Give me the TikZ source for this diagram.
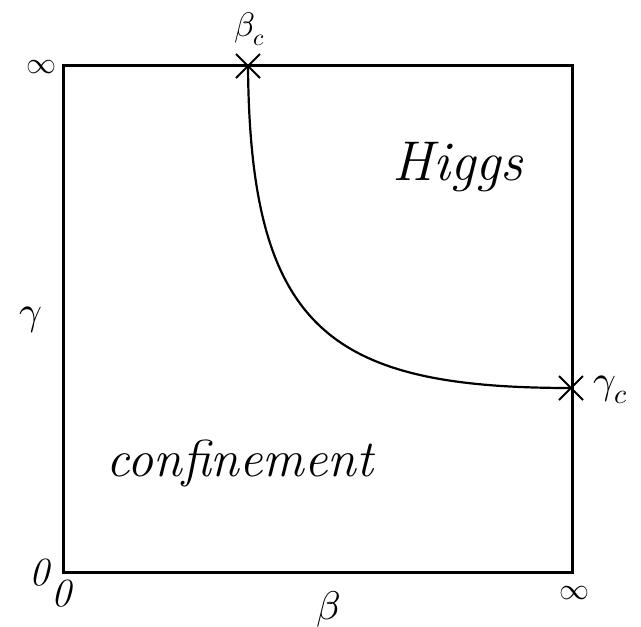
\documentclass[tikz,border=0pt]{standalone}
\usepackage{unicode-math}
\setmathfont{Latin Modern Math}
\usetikzlibrary{calc}
\begin{document}
\begin{tikzpicture}[x=1pt,y=-1pt,
  frame/.style={line width=3pt},
  curve/.style={line width=2.2pt},
  cross/.style={line width=2pt},
  big/.style={font=\fontsize{#1}{60}\selectfont\itshape, inner sep=0pt},
  lab/.style={font=\fontsize{#1}{40}\selectfont\itshape, inner sep=0pt}]
\useasboundingbox (0,0) rectangle (641,627);
\coordinate (bl) at (63,572);
\coordinate (tr) at (572,65);
\draw[frame] (bl) rectangle (tr);
\coordinate (bc) at (248,66);
\coordinate (gc) at (571,388);
\draw[curve] (bc) .. controls (250,330) and (330,388) .. (gc);
\draw[cross] ($(bc)+(-12,-12)$) -- ($(bc)+(12,12)$) ($(bc)+(-12,12)$) -- ($(bc)+(12,-12)$);
\draw[cross] ($(gc)+(-12,-12)$) -- ($(gc)+(12,12)$) ($(gc)+(-12,12)$) -- ($(gc)+(12,-12)$);
\node[lab=34] (bclab) at (250,29) {$\beta_c$};
\node[lab=40] (gclab) at (611,390) {$\gamma_c$};
\node[big=56] (higgs) at (458,167) {Higgs};
\node[big=52] (conf) at (240,463) {confinement};
\node[lab=30] (inftop) at (42,67) {$\infty$};
\node[lab=40] (gam) at (31,320) {$\gamma$};
\node[lab=40] (zl) at (40,573) {0};
\node[lab=40] (zb) at (62,594) {0};
\node[lab=40] (bet) at (329,609) {$\beta$};
\node[lab=30] (infb) at (574,593) {$\infty$};
\end{tikzpicture}
\end{document}
